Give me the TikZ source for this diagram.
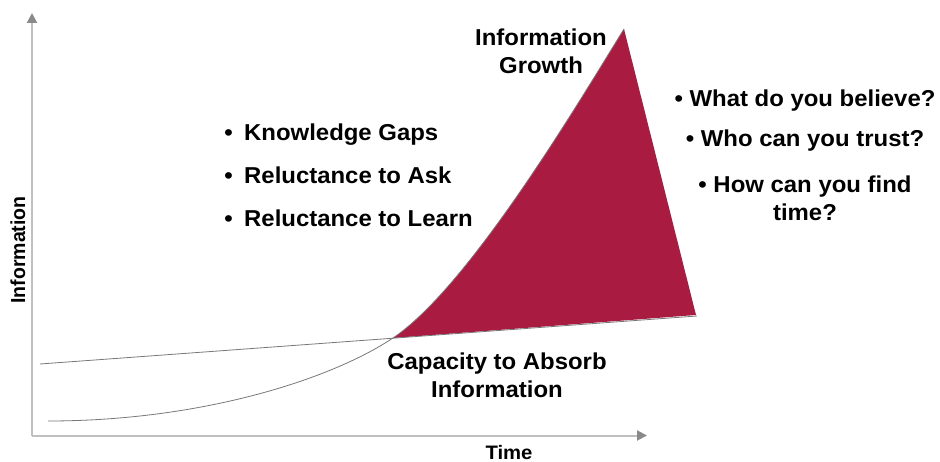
\documentclass[tikz,border=0pt]{standalone}
\usepackage{fontspec}
\setmainfont{Liberation Sans}
\usetikzlibrary{arrows.meta}
\definecolor{crim}{RGB}{170,27,66}
\definecolor{axisgray}{RGB}{192,192,192}
\definecolor{tipgray}{RGB}{138,138,138}
\definecolor{curvegray}{RGB}{120,120,120}
\begin{document}
\begin{tikzpicture}[x=1pt,y=-1pt,
  lbl/.style={font=\fontsize{23}{28}\selectfont\bfseries, inner sep=0pt, align=center, xscale=1.04},
  axlbl/.style={font=\fontsize{19.5}{24}\selectfont\bfseries, inner sep=0pt, xscale=1.04},
  axis/.style={draw=axisgray, line width=2pt, -{Triangle[length=10pt,width=10pt,color=tipgray]}},
  curve/.style={draw=curvegray, line width=0.8pt}]
\useasboundingbox (0,0) rectangle (940,462);
% axes
\coordinate (origin) at (32,435.5);
\coordinate (ytip) at (32,13);
\coordinate (xtip) at (647,435.5);
\draw[axis] (origin) -- (ytip);
\draw[axis] (origin) -- (xtip);
% key points
\coordinate (gstart) at (48,421);
\coordinate (cross) at (393,338);
\coordinate (gtip) at (624,29);
\coordinate (gapR) at (696,315);
% filled gap
\fill[crim] (cross) .. controls (470,286) and (580,100) .. (gtip) -- (gapR) -- cycle;
% information growth curve
\draw[curve] (gstart) .. controls (200,421) and (330,380) .. (cross)
  .. controls (470,286) and (580,100) .. (gtip);
% capacity line
\coordinate (capL) at (40,364);
\coordinate (capR) at (697,316);
\draw[curve] (capL) -- (capR);
% labels
\node[lbl, anchor=base] (growth) at (541,73.5) {Information\\Growth};
\node[lbl, anchor=base] (capacity) at (497,397) {Capacity to Absorb\\Information};
\node[lbl, anchor=base west] (gaps) at (244,140.7) {\llap{\textbullet\hspace{11pt}}Knowledge Gaps};
\node[lbl, anchor=base west] (ask) at (244,183.7) {\llap{\textbullet\hspace{11pt}}Reluctance to Ask};
\node[lbl, anchor=base west] (learn) at (244,226.7) {\llap{\textbullet\hspace{11pt}}Reluctance to Learn};
\node[lbl, anchor=base] (believe) at (805,106.7) {\textbullet\ What do you believe?};
\node[lbl, anchor=base] (trust) at (805,146.7) {\textbullet\ Who can you trust?};
\node[lbl, anchor=base] (findtime) at (805,221) {\textbullet\ How can you find\\time?};
\node[axlbl, anchor=base] (time) at (509,459) {Time};
\node[axlbl, rotate=90, anchor=base] (info) at (25,250) {Information};
\end{tikzpicture}
\end{document}
